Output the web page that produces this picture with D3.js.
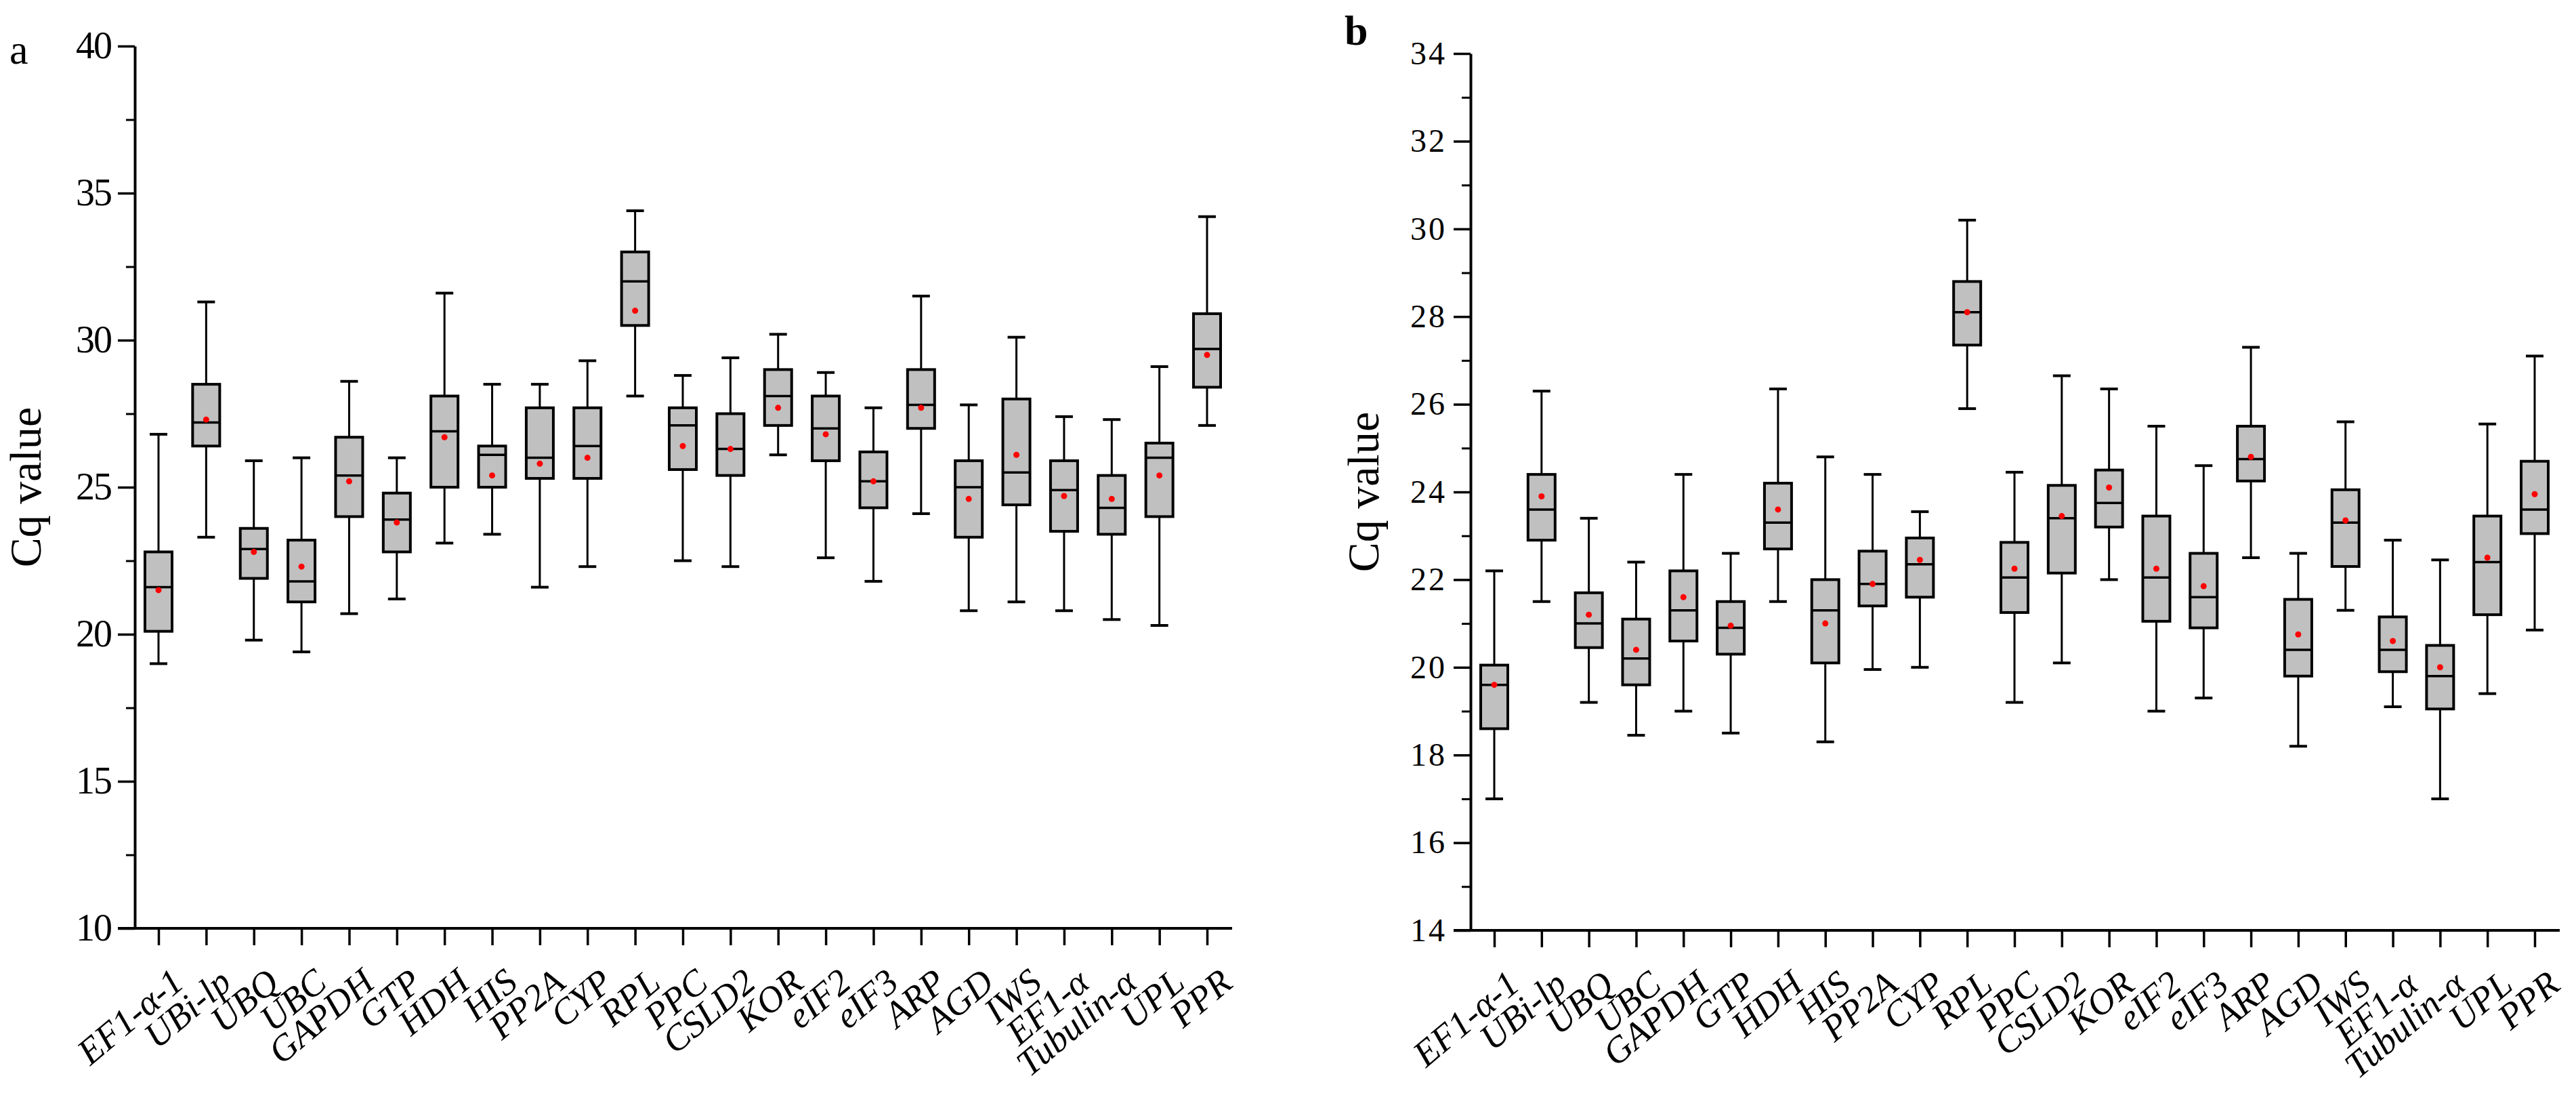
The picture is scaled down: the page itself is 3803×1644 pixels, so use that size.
<!DOCTYPE html>
<html>
<head>
<meta charset="utf-8">
<script src="https://cdn.jsdelivr.net/npm/d3@7"></script>
<style>
  body { margin: 0; background: #fff; }
  text { font-family: "Liberation Serif", "Times New Roman", serif; fill: #000; }
</style>
</head>
<body>
<div id="chart"></div>
<script>
var genes = ["EF1-α-1", "UBi-lp", "UBQ", "UBC", "GAPDH", "GTP", "HDH", "HIS", "PP2A", "CYP", "RPL",
    "PPC", "CSLD2", "KOR", "eIF2", "eIF3", "ARP", "AGD", "IWS", "EF1-α", "Tubulin-α", "UPL", "PPR"];

// [min, q1, median, q3, max, mean]
var statsA = [
    [19.0, 20.1, 21.6, 22.8, 26.8, 21.5],
    [23.3, 26.4, 27.2, 28.5, 31.3, 27.3],
    [19.8, 21.9, 22.9, 23.6, 25.9, 22.8],
    [19.4, 21.1, 21.8, 23.2, 26.0, 22.3],
    [20.7, 24.0, 25.4, 26.7, 28.6, 25.2],
    [21.2, 22.8, 23.9, 24.8, 26.0, 23.8],
    [23.1, 25.0, 26.9, 28.1, 31.6, 26.7],
    [23.4, 25.0, 26.1, 26.4, 28.5, 25.4],
    [21.6, 25.3, 26.0, 27.7, 28.5, 25.8],
    [22.3, 25.3, 26.4, 27.7, 29.3, 26.0],
    [28.1, 30.5, 32.0, 33.0, 34.4, 31.0],
    [22.5, 25.6, 27.1, 27.7, 28.8, 26.4],
    [22.3, 25.4, 26.3, 27.5, 29.4, 26.3],
    [26.1, 27.1, 28.1, 29.0, 30.2, 27.7],
    [22.6, 25.9, 27.0, 28.1, 28.9, 26.8],
    [21.8, 24.3, 25.2, 26.2, 27.7, 25.2],
    [24.1, 27.0, 27.8, 29.0, 31.5, 27.7],
    [20.8, 23.3, 25.0, 25.9, 27.8, 24.6],
    [21.1, 24.4, 25.5, 28.0, 30.1, 26.1],
    [20.8, 23.5, 24.9, 25.9, 27.4, 24.7],
    [20.5, 23.4, 24.3, 25.4, 27.3, 24.6],
    [20.3, 24.0, 26.0, 26.5, 29.1, 25.4],
    [27.1, 28.4, 29.7, 30.9, 34.2, 29.5]
];

var statsB = [
    [17.0, 18.6, 19.6, 20.05, 22.2, 19.6],
    [21.5, 22.9, 23.6, 24.4, 26.3, 23.9],
    [19.2, 20.45, 21.0, 21.7, 23.4, 21.2],
    [18.45, 19.6, 20.2, 21.1, 22.4, 20.4],
    [19.0, 20.6, 21.3, 22.2, 24.4, 21.6],
    [18.5, 20.3, 20.9, 21.5, 22.6, 20.95],
    [21.5, 22.7, 23.3, 24.2, 26.35, 23.6],
    [18.3, 20.1, 21.3, 22.0, 24.8, 21.0],
    [19.95, 21.4, 21.9, 22.65, 24.4, 21.9],
    [20.0, 21.6, 22.35, 22.95, 23.55, 22.45],
    [25.9, 27.35, 28.1, 28.8, 30.2, 28.1],
    [19.2, 21.25, 22.05, 22.85, 24.45, 22.25],
    [20.1, 22.15, 23.4, 24.15, 26.65, 23.45],
    [22.0, 23.2, 23.75, 24.5, 26.35, 24.1],
    [19.0, 21.05, 22.05, 23.45, 25.5, 22.25],
    [19.3, 20.9, 21.6, 22.6, 24.6, 21.85],
    [22.5, 24.25, 24.75, 25.5, 27.3, 24.8],
    [18.2, 19.8, 20.4, 21.55, 22.6, 20.75],
    [21.3, 22.3, 23.3, 24.05, 25.6, 23.35],
    [19.1, 19.9, 20.4, 21.15, 22.9, 20.6],
    [17.0, 19.05, 19.8, 20.5, 22.45, 20.0],
    [19.4, 21.2, 22.4, 23.45, 25.55, 22.5],
    [20.85, 23.05, 23.6, 24.7, 27.1, 23.95]
];

var ticksA = [10, 15, 20, 25, 30, 35, 40];
var ticksB = [14, 16, 18, 20, 22, 24, 26, 28, 30, 32, 34];

var svg = d3.select("#chart").append("svg")
    .attr("width", 3803)
    .attr("height", 1644);

function panel(opt) {
    var g = svg.append("g");
    var x = d3.scalePoint().domain(genes).range([opt.x0 + 35, opt.x1 - 37]);
    var y = d3.scaleLinear().domain(opt.domain).range([opt.yBottom, opt.yTop]);

    // minor ticks
    var minor = [];
    for (var i = 0; i < opt.ticks.length - 1; i++) minor.push((opt.ticks[i] + opt.ticks[i + 1]) / 2);
    g.append("g")
        .attr("transform", "translate(" + opt.x0 + ",0)")
        .call(d3.axisLeft(y).tickValues(minor).tickSize(13).tickFormat(""))
        .call(function (a) { a.select(".domain").remove(); a.selectAll("line").attr("stroke-width", 3); });

    var yAxis = g.append("g")
        .attr("transform", "translate(" + opt.x0 + ",0)")
        .call(d3.axisLeft(y).tickValues(opt.ticks).tickSize(25).tickSizeOuter(0).tickPadding(10));
    yAxis.select(".domain").attr("stroke-width", 4);
    yAxis.selectAll("line").attr("stroke-width", 3.5);
    yAxis.selectAll("text").style("font-size", opt.tickFont + "px")
        .style("letter-spacing", opt.spacing).style("font-family", "Liberation Serif");

    var xAxis = g.append("g")
        .attr("transform", "translate(0," + opt.yBottom + ")")
        .call(d3.axisBottom(x).tickSize(25).tickSizeOuter(0).tickFormat(""));
    xAxis.select(".domain").attr("d", "M" + (opt.x0 - 25) + ",0H" + opt.x1).attr("stroke-width", 4);
    xAxis.selectAll("line").attr("stroke-width", 3.5);

    g.selectAll(".xl").data(genes).enter().append("text")
        .attr("transform", function (d) { return "translate(" + (x(d) + 16) + "," + (opt.yBottom + 56) + ") rotate(-40)"; })
        .attr("text-anchor", "end")
        .attr("dy", "0.7em")
        .style("font-style", "italic")
        .style("font-size", "54px")
        .text(function (d) { return d; });

    g.append("text")
        .attr("transform", "translate(" + opt.titleX + "," + ((opt.yTop + opt.yBottom) / 2) + ") rotate(-90)")
        .attr("text-anchor", "middle")
        .style("font-size", "66px")
        .text("Cq value");

    g.append("text")
        .attr("x", opt.letterX).attr("y", opt.letterY)
        .style("font-size", "62px")
        .style("font-weight", opt.letterWeight)
        .text(opt.letter);

    var bw = 40, cw = 26;
    var box = g.selectAll(".box").data(opt.stats).enter().append("g")
        .attr("transform", function (d, i) { return "translate(" + x(genes[i]) + ",0)"; });
    box.append("line").attr("y1", function (d) { return y(d[0]); }).attr("y2", function (d) { return y(d[4]); })
        .attr("stroke", "#000").attr("stroke-width", 3);
    box.append("line").attr("x1", -cw / 2).attr("x2", cw / 2)
        .attr("y1", function (d) { return y(d[4]); }).attr("y2", function (d) { return y(d[4]); })
        .attr("stroke", "#000").attr("stroke-width", 4);
    box.append("line").attr("x1", -cw / 2).attr("x2", cw / 2)
        .attr("y1", function (d) { return y(d[0]); }).attr("y2", function (d) { return y(d[0]); })
        .attr("stroke", "#000").attr("stroke-width", 4);
    box.append("rect").attr("x", -bw / 2).attr("width", bw)
        .attr("y", function (d) { return y(d[3]); })
        .attr("height", function (d) { return y(d[1]) - y(d[3]); })
        .attr("fill", "#c0c0c0").attr("stroke", "#000").attr("stroke-width", 4);
    box.append("line").attr("x1", -bw / 2).attr("x2", bw / 2)
        .attr("y1", function (d) { return y(d[2]); }).attr("y2", function (d) { return y(d[2]); })
        .attr("stroke", "#000").attr("stroke-width", 3.5);
    box.append("circle").attr("r", 4.5).attr("cy", function (d) { return y(d[5]); })
        .attr("fill", "#ff0000");
}

panel({
    x0: 199, x1: 1819, yTop: 68, yBottom: 1370, domain: [10, 40], ticks: ticksA, stats: statsA,
    tickFont: 56, spacing: "-2px", titleX: 60, letter: "a", letterX: 14, letterY: 94, letterWeight: "normal"
});
panel({
    x0: 2171, x1: 3779, yTop: 79, yBottom: 1373, domain: [14, 34], ticks: ticksB, stats: statsB,
    tickFont: 48, spacing: "3px", titleX: 2035, letter: "b", letterX: 1985, letterY: 66, letterWeight: "bold"
});
</script>
</body>
</html>
